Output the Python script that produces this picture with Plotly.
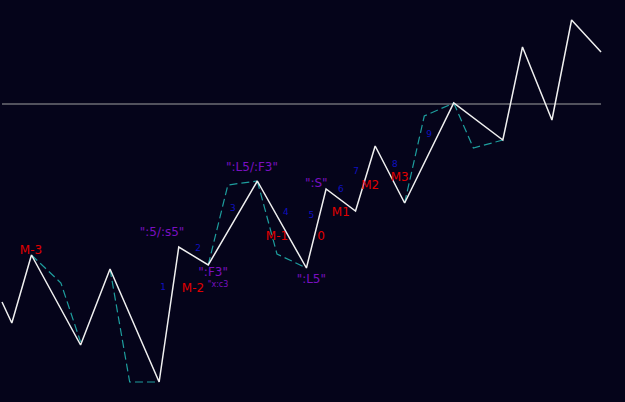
import plotly.graph_objects as go

# Zigzag (bar index, price)
zz_x = [0, 1, 3, 8, 11, 16, 18, 21, 26, 31, 33, 36, 38, 41, 46, 51, 53, 56, 58, 61]
zz_y = [50, 39.5, 73.5, 28.5, 66.5, 10, 77.5, 68.5, 110.5, 67, 106.5, 95.5, 128, 99.5, 149.5, 131, 177.5, 141, 191, 175]

# Secondary dashed path (None = gap)
alt_x = [3, 6, 8, None, 11, 13, 16, None, 21, 23, 26, None, 26, 28, 31, None, 41, 43, 46, None, 46, 48, 51]
alt_y = [73.5, 59.5, 30, None, 66.5, 10, 10, None, 68.5, 108.5, 110.5, None, 110.5, 74, 67, None, 99.5, 143, 149.5, None, 149.5, 127, 131]

level_y = 149
level_x = [0, 61]

# Labels
red_text = ["M-3", "M-2", "M-1", "0", "M1", "M2", "M3"]
red_x = [2.95, 19.45, 28.0, 32.5, 34.5, 37.5, 40.5]
red_y = [75.5, 56.5, 82.5, 82.5, 94.5, 108, 112]

purple_text = ['":5/:s5"', '":F3"', '":L5/:F3"', '":L5"', '":S"']
purple_x = [16.3, 21.5, 25.46, 31.5, 32.0]
purple_y = [84.5, 64.5, 117, 61, 109]

small_text = ['"x:c3']
small_x = [22.0]
small_y = [58.5]

blue_text = ["1", "2", "3", "4", "5", "6", "7", "8", "9"]
blue_x = [16.4, 19.96, 23.5, 28.9, 31.5, 34.5, 36.05, 40.0, 43.5]
blue_y = [57, 76.5, 96.5, 94.5, 93, 106, 115, 118.5, 133.5]

fig = go.Figure()
fig.add_trace(go.Scatter(x=level_x, y=[level_y, level_y], mode="lines",
                         line=dict(color="#a0a0a0", width=1), hoverinfo="skip"))
fig.add_trace(go.Scatter(x=alt_x, y=alt_y, mode="lines", connectgaps=False,
                         line=dict(color="#1e9e9e", width=1.2, dash="8px,4px"), hoverinfo="skip"))
fig.add_trace(go.Scatter(x=zz_x, y=zz_y, mode="lines",
                         line=dict(color="#f0f0f0", width=1.5), hoverinfo="skip"))

fnt = "DejaVu Sans"
fig.add_trace(go.Scatter(x=red_x, y=red_y, mode="text", text=red_text,
                         textfont=dict(family=fnt, size=12, color="#e00000")))
fig.add_trace(go.Scatter(x=purple_x, y=purple_y, mode="text", text=purple_text,
                         textfont=dict(family=fnt, size=12, color="#7a10c0")))
fig.add_trace(go.Scatter(x=small_x, y=small_y, mode="text", text=small_text,
                         textfont=dict(family=fnt, size=8, color="#7a10c0")))
fig.add_trace(go.Scatter(x=blue_x, y=blue_y, mode="text", text=blue_text,
                         textfont=dict(family=fnt, size=9, color="#1010c0")))

fig.update_layout(
    width=625, height=402,
    margin=dict(l=0, r=0, t=0, b=0),
    paper_bgcolor="#05041a", plot_bgcolor="#05041a",
    showlegend=False,
    xaxis=dict(range=[-0.204, 63.44], visible=False, showgrid=False, zeroline=False),
    yaxis=dict(range=[0, 201], visible=False, showgrid=False, zeroline=False),
)
fig.write_html("out.html")
